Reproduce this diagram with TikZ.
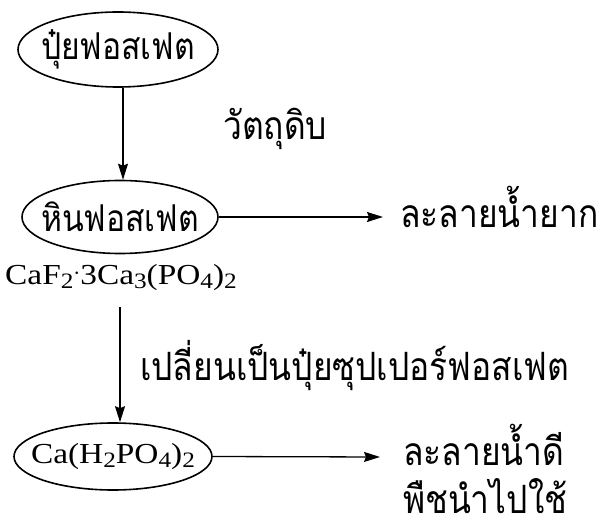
\documentclass[tikz,border=0pt]{standalone}
\usepackage{fontspec}
\setmainfont{Liberation Serif}
\newfontfamily\chemfont[FakeStretch=1.15]{Liberation Serif}
\newfontfamily\thaifont[Script=Thai,FakeStretch=0.86]{Loma}
\usetikzlibrary{shapes.geometric,arrows.meta}
\newcommand{\sbs}[1]{\raisebox{-4.5pt}{\fontsize{22}{22}\selectfont #1}}
\tikzset{
  oval/.style={draw, ellipse, line width=1.6pt, inner sep=0pt},
  conn/.style={line width=1.3pt, -{Stealth[length=16pt,width=10pt,inset=2pt]}},
  thaitxt/.style={font=\thaifont\fontsize{39}{42}\selectfont},
  ovaltxt/.style={font=\thaifont\fontsize{37}{40}\selectfont},
  thai/.style={thaitxt, inner sep=0pt, anchor=base west},
  chem/.style={font=\chemfont\fontsize{29}{31}\selectfont, inner sep=0pt},
}
\begin{document}
\begin{tikzpicture}[x=1pt,y=-1pt]
\useasboundingbox (0,0) rectangle (606,532);
\node[oval, minimum width=200pt, minimum height=75pt, ovaltxt] (e1) at (118,49.5) {\makebox[0pt]{ปุ๋ยฟอสเฟต}};
\node[oval, minimum width=196pt, minimum height=73pt, ovaltxt] (e2) at (120,217) {\makebox[0pt]{หินฟอสเฟต}};
\node[oval, minimum width=198pt, minimum height=67pt, chem] (e3) at (113,456.5) {\makebox[0pt]{Ca(H\sbs{2}PO\sbs{4})\sbs{2}}};
\node[chem, anchor=base west] (caf) at (5,284) {CaF\sbs{2}\raisebox{5pt}{$\cdot$}3Ca\sbs{3}(PO\sbs{4})\sbs{2}};
\node[thai] (raw) at (223,140) {วัตถุดิบ};
\node[thai] (hard) at (400,228) {ละลายน้ำยาก};
\node[thai] (conv) at (140,380) {เปลี่ยนเป็นปุ๋ยซุปเปอร์ฟอสเฟต};
\node[thai] (easy) at (403,465) {ละลายน้ำดี};
\node[thai] (use) at (403,513) {พืชนำไปใช้};
\coordinate (t1) at (383,217);
\coordinate (t2) at (380,457);
\coordinate (s2) at (120,307);
\draw[conn] ([xshift=5pt]e1.south) -- ([xshift=3pt]e2.north);
\draw[conn] (e2.east) -- (t1);
\draw[conn] (s2) -- (s2 |- e3.north);
\draw[conn] (e3.east) -- (t2);
\end{tikzpicture}
\end{document}
